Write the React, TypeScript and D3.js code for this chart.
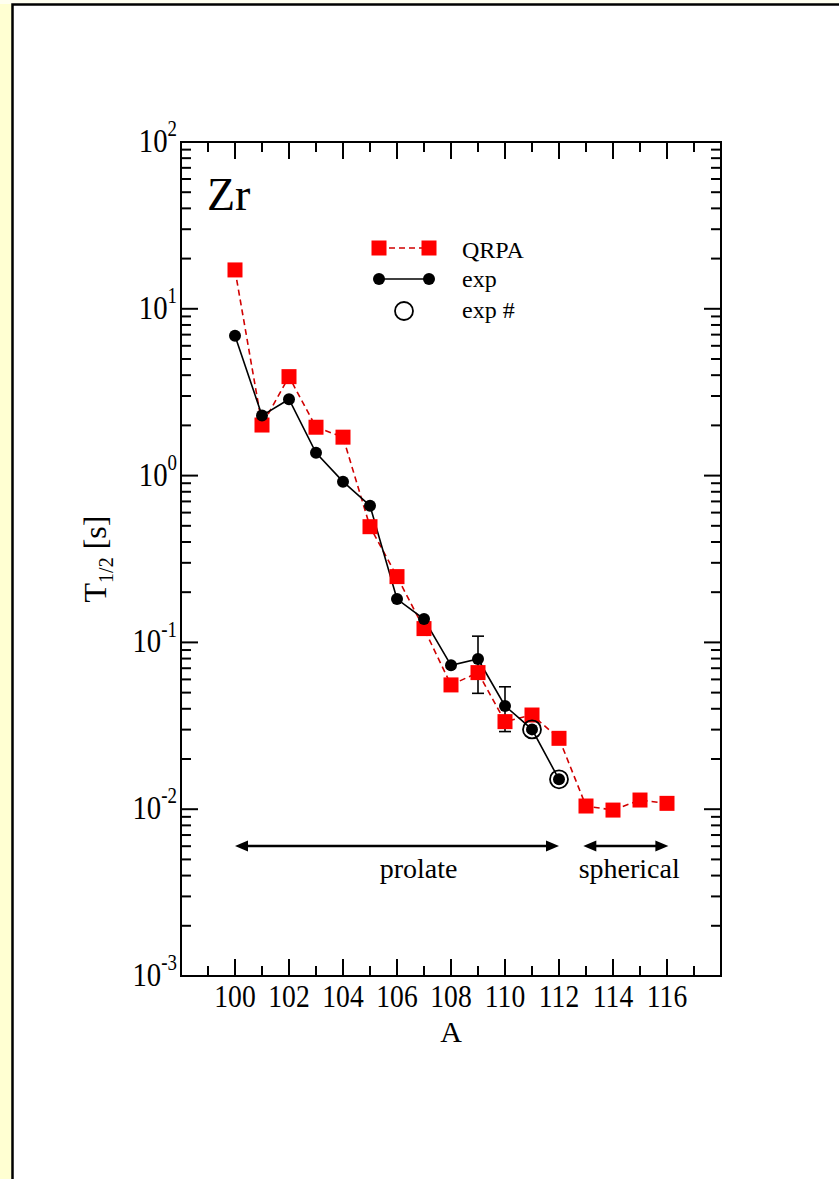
import React from "react";
import * as d3 from "d3";

const massQRPA = [100, 101, 102, 103, 104, 105, 106, 107, 108, 109, 110, 111, 112, 113, 114, 115, 116];
const halfLifeQRPA = [17.1, 2.01, 3.92, 1.95, 1.7, 0.494, 0.248, 0.121, 0.0556, 0.0659, 0.0335, 0.0367, 0.0266, 0.01045, 0.00988, 0.01135, 0.01084];

const massExp = [100, 101, 102, 103, 104, 105, 106, 107, 108, 109, 110, 111, 112];
const halfLifeExp = [6.9, 2.29, 2.87, 1.37, 0.92, 0.66, 0.182, 0.138, 0.0729, 0.0795, 0.0416, 0.0301, 0.0151];
const errLowExp = [6.9, 2.29, 2.87, 1.37, 0.92, 0.66, 0.182, 0.138, 0.0729, 0.0495, 0.0292, 0.0301, 0.0151];
const errHighExp = [6.9, 2.29, 2.87, 1.37, 0.92, 0.66, 0.182, 0.138, 0.0729, 0.109, 0.0542, 0.0301, 0.0151];

const massExpHash = [111, 112];
const halfLifeExpHash = [0.0301, 0.0151];

const xMajorTicks = [100, 102, 104, 106, 108, 110, 112, 114, 116];
const yDecades = [-3, -2, -1, 0, 1, 2];

const regions = [
  { label: "prolate", from: 100, to: 112, textAt: 106.8 },
  { label: "spherical", from: 112.9, to: 116.05, textAt: 114.6 },
];

const FONT = "'Liberation Serif', 'Times New Roman', serif";

export default function App() {
  const W = 839;
  const H = 1179;
  const x = d3.scaleLinear().domain([98, 118]).range([181, 721]);
  const y = d3.scaleLog().domain([1e-3, 1e2]).range([976, 142]);
  const [x0, x1] = x.range();
  const [yb, yt] = y.range();

  const lineGen = d3
    .line<[number, number]>()
    .x((d) => x(d[0]))
    .y((d) => y(d[1]));

  const qrpaPts: [number, number][] = massQRPA.map((a, i) => [a, halfLifeQRPA[i]]);
  const expPts: [number, number][] = massExp.map((a, i) => [a, halfLifeExp[i]]);

  const xMinor = d3.range(99, 118, 2);
  const yMinor: number[] = [];
  for (let e = -3; e < 2; e++) for (let m = 2; m <= 9; m++) yMinor.push(m * Math.pow(10, e));

  const MAJ = 17;
  const MIN = 10;
  const tickStyle = { stroke: "#000", strokeWidth: 2 };

  const arrowY = 846;
  const arrowHead = (tipX: number, dir: number) => {
    const L = 13, Hh = 5.5;
    return `M${tipX},${arrowY} L${tipX - dir * L},${arrowY - Hh} L${tipX - dir * L},${arrowY + Hh} Z`;
  };

  return (
    <svg
      width={W}
      height={H}
      style={{ position: "absolute", left: 0, top: 0, background: "#fff" }}
      fontFamily={FONT}
    >
      <rect x={0} y={0} width={W} height={H} fill="#fff" />
      <rect x={0} y={0} width={12} height={H} fill="#ffffd2" />
      <rect x={0} y={0} width={W} height={4} fill="#fffff0" />
      <path d={`M12.5,${H} L12.5,4.5 L${W},4.5`} fill="none" stroke="#000" strokeWidth={2.5} />

      {/* axes frame */}
      <rect x={x0} y={yt} width={x1 - x0} height={yb - yt} fill="none" stroke="#000" strokeWidth={2} />

      {/* x ticks */}
      {xMajorTicks.map((t) => (
        <g key={"xm" + t}>
          <line x1={x(t)} x2={x(t)} y1={yb} y2={yb - MAJ} {...tickStyle} />
          <line x1={x(t)} x2={x(t)} y1={yt} y2={yt + MAJ} {...tickStyle} />
          <text
            transform={`translate(${x(t)},1007) scale(0.92,1.05)`}
            fontSize={30}
            textAnchor="middle"
          >
            {t}
          </text>
        </g>
      ))}
      {xMinor.map((t) => (
        <g key={"xn" + t}>
          <line x1={x(t)} x2={x(t)} y1={yb} y2={yb - MIN} {...tickStyle} />
          <line x1={x(t)} x2={x(t)} y1={yt} y2={yt + MIN} {...tickStyle} />
        </g>
      ))}

      {/* y ticks */}
      {yDecades.map((e) => {
        const v = Math.pow(10, e);
        return (
          <g key={"ym" + e}>
            <line x1={x0} x2={x0 + MAJ} y1={y(v)} y2={y(v)} {...tickStyle} />
            <line x1={x1} x2={x1 - MAJ} y1={y(v)} y2={y(v)} {...tickStyle} />
            <text
              transform={`translate(177,${y(v) + 10}) scale(0.9,1.05)`}
              fontSize={32}
              textAnchor="end"
            >
              10
              <tspan fontSize={21} dy={-15}>
                {e}
              </tspan>
            </text>
          </g>
        );
      })}
      {yMinor.map((v, i) => (
        <g key={"yn" + i}>
          <line x1={x0} x2={x0 + MIN} y1={y(v)} y2={y(v)} {...tickStyle} />
          <line x1={x1} x2={x1 - MIN} y1={y(v)} y2={y(v)} {...tickStyle} />
        </g>
      ))}

      {/* axis labels */}
      <text x={(x0 + x1) / 2} y={1042} fontSize={30} textAnchor="middle">
        A
      </text>
      <text transform={`translate(106,${(yt + yb) / 2}) rotate(-90)`} fontSize={32} textAnchor="middle">
        T
        <tspan fontSize={20} dy={7}>
          1/2
        </tspan>
        <tspan dy={-7}> [s]</tspan>
      </text>

      {/* Zr */}
      <text x={207} y={210} fontSize={46}>
        Zr
      </text>

      {/* QRPA dashed line */}
      <path d={lineGen(qrpaPts) || ""} fill="none" stroke="#d00000" strokeWidth={1.6} strokeDasharray="6,4" />
      {/* exp line */}
      <path d={lineGen(expPts) || ""} fill="none" stroke="#000" strokeWidth={1.6} />

      {/* error bars */}
      {massExp.map((a, i) => {
        if (errHighExp[i] === errLowExp[i]) return null;
        const cx = x(a);
        return (
          <g key={"err" + a} stroke="#000" strokeWidth={1.6}>
            <line x1={cx} x2={cx} y1={y(errLowExp[i])} y2={y(errHighExp[i])} />
            <line x1={cx - 6} x2={cx + 6} y1={y(errLowExp[i])} y2={y(errLowExp[i])} />
            <line x1={cx - 6} x2={cx + 6} y1={y(errHighExp[i])} y2={y(errHighExp[i])} />
          </g>
        );
      })}

      {/* QRPA squares */}
      {qrpaPts.map(([a, v]) => (
        <rect key={"q" + a} x={x(a) - 7.5} y={y(v) - 7.5} width={15} height={15} fill="#ff0000" />
      ))}

      {/* exp dots */}
      {expPts.map(([a, v]) => (
        <circle key={"e" + a} cx={x(a)} cy={y(v)} r={6} fill="#000" />
      ))}

      {/* exp # circles */}
      {massExpHash.map((a, i) => (
        <circle key={"h" + a} cx={x(a)} cy={y(halfLifeExpHash[i])} r={9} fill="none" stroke="#000" strokeWidth={1.8} />
      ))}

      {/* legend */}
      <g>
        <line x1={379} x2={429} y1={248} y2={248} stroke="#d00000" strokeWidth={1.6} strokeDasharray="6,4" />
        <rect x={379 - 7.5} y={248 - 7.5} width={15} height={15} fill="#ff0000" />
        <rect x={429 - 7.5} y={248 - 7.5} width={15} height={15} fill="#ff0000" />
        <text x={462} y={258} fontSize={24}>
          QRPA
        </text>
        <line x1={379} x2={429} y1={279} y2={279} stroke="#000" strokeWidth={1.6} />
        <circle cx={379} cy={279} r={6} fill="#000" />
        <circle cx={429} cy={279} r={6} fill="#000" />
        <text x={462} y={287} fontSize={24}>
          exp
        </text>
        <circle cx={404} cy={311} r={9} fill="none" stroke="#000" strokeWidth={1.8} />
        <text x={462} y={318} fontSize={24}>
          exp #
        </text>
      </g>

      {/* region arrows */}
      {regions.map((r) => (
        <g key={r.label}>
          <line x1={x(r.from) + 6} x2={x(r.to) - 6} y1={arrowY} y2={arrowY} stroke="#000" strokeWidth={2.5} />
          <path d={arrowHead(x(r.from), -1)} fill="#000" />
          <path d={arrowHead(x(r.to), 1)} fill="#000" />
          <text x={x(r.textAt)} y={878} fontSize={28} textAnchor="middle">
            {r.label}
          </text>
        </g>
      ))}
    </svg>
  );
}
